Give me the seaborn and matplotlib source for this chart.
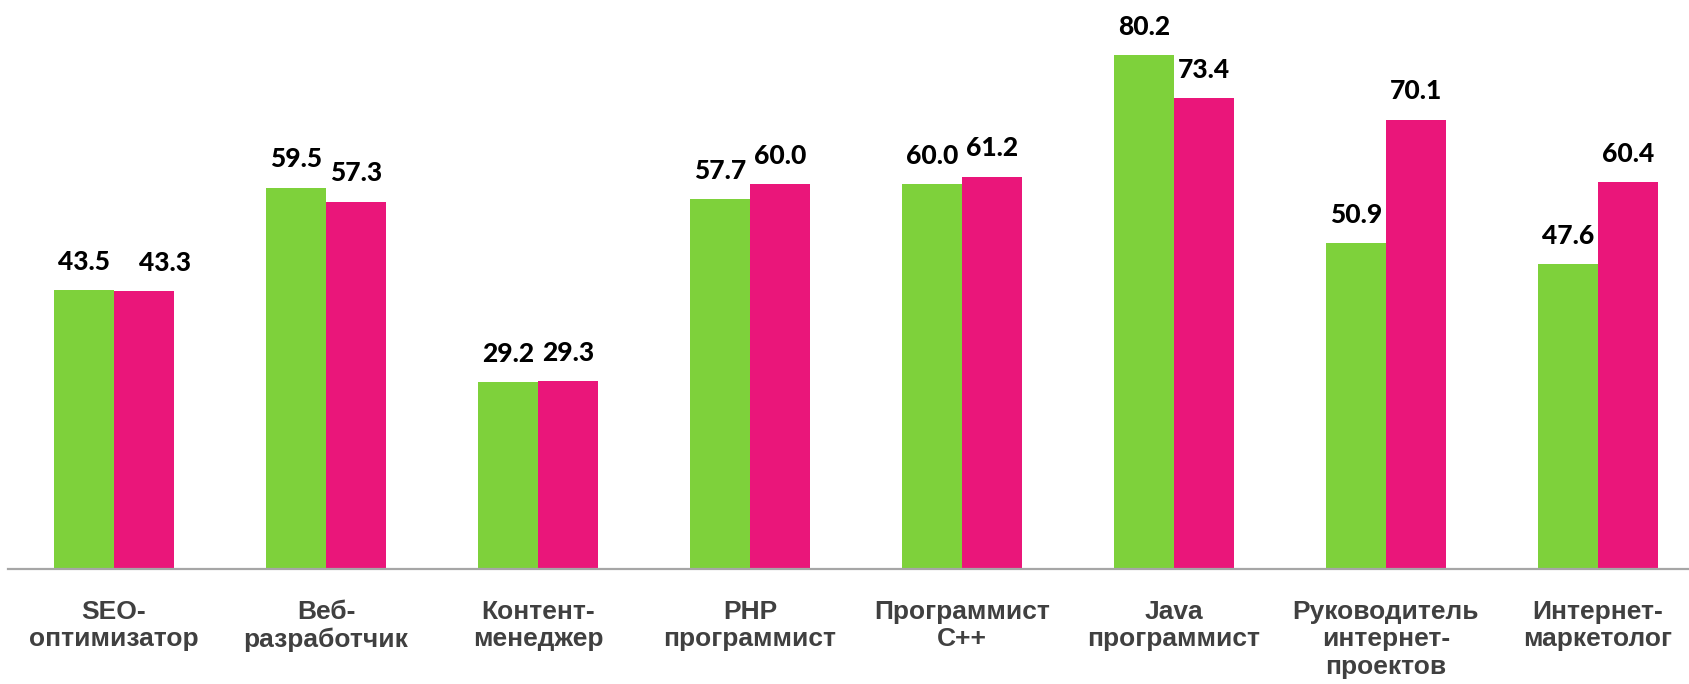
import matplotlib
matplotlib.use("Agg")
import matplotlib.pyplot as plt
import seaborn as sns
import pandas as pd

categories = ["SEO-\nоптимизатор", "Веб-\nразработчик", "Контент-\nменеджер",
              "PHP\nпрограммист", "Программист\nC++", "Java\nпрограммист",
              "Руководитель\nинтернет-\nпроектов", "Интернет-\nмаркетолог"]
series_names = ["Серия 1", "Серия 2"]
values_1 = [43.5, 59.5, 29.2, 57.7, 60.0, 80.2, 50.9, 47.6]
values_2 = [43.3, 57.3, 29.3, 60.0, 61.2, 73.4, 70.1, 60.4]
colors = ["#7ED13B", "#EA167A"]

df = pd.DataFrame({
    "cat": categories * 2,
    "series": [series_names[0]] * len(categories) + [series_names[1]] * len(categories),
    "value": values_1 + values_2,
})

sns.set_theme(style="white")
plt.rcParams["font.family"] = ["Liberation Sans", "DejaVu Sans"]

W, H = 1690, 684
fig = plt.figure(figsize=(W / 100, H / 100), dpi=100)
ax = fig.add_axes([8 / W, 115 / H, 1696 / W, 545 / H])

sns.barplot(data=df, x="cat", y="value", hue="series", order=categories,
            hue_order=series_names, palette=colors, width=0.57, saturation=1,
            linewidth=0, errorbar=None, ax=ax, legend=False)

ax.set_xlim(-0.5, 7.5)
ax.set_ylim(0, 85)
ax.set_xlabel("")
ax.set_ylabel("")
ax.set_yticks([])
for s in ["top", "right", "left"]:
    ax.spines[s].set_visible(False)
ax.spines["bottom"].set_color("#A6A6A6")
ax.spines["bottom"].set_linewidth(1.6)
ax.tick_params(axis="x", length=0, pad=22.5)
for lbl in ax.get_xticklabels():
    lbl.set_fontsize(19)
    lbl.set_fontweight("bold")
    lbl.set_color("#404040")
    lbl.set_linespacing(1.17)

# one label in the reference is nudged sideways (series 2, first category)
label_nudge_pt = {(1, 0): 15}
series_vals = [values_1, values_2]
for si, cont in enumerate(ax.containers):
    for i, bar in enumerate(cont):
        v = series_vals[si][i]
        ax.annotate(f"{v:.1f}", xy=(bar.get_x() + bar.get_width() / 2, bar.get_height()),
                    xytext=(label_nudge_pt.get((si, i), 0), 14.5), textcoords="offset points",
                    ha="center", va="baseline", fontsize=19, fontweight="black",
                    family=["Lato", "DejaVu Sans"], color="#000000")

fig.savefig("out.png", dpi=100)
